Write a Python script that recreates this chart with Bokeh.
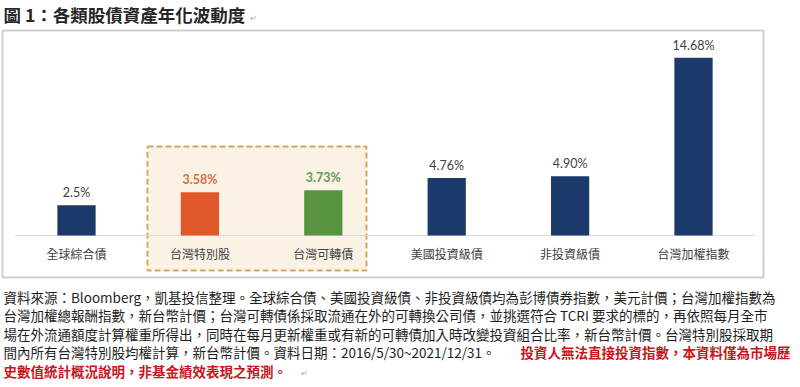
from bokeh.plotting import figure
from bokeh.models import Range1d, ColumnDataSource
from bokeh.core.properties import value
from bokeh.embed import file_html
from bokeh.resources import INLINE

# ---------------- data ----------------
categories = ["全球綜合債", "台灣特別股", "台灣可轉債", "美國投資級債", "非投資級債", "台灣加權指數"]
volatility = [2.50, 3.58, 3.73, 4.76, 4.90, 14.68]
value_labels = ["2.5%", "3.58%", "3.73%", "4.76%", "4.90%", "14.68%"]
bar_colors = ["#1B3A6B", "#E0582A", "#589440", "#1B3A6B", "#1B3A6B", "#1B3A6B"]
label_colors = ["#404040", "#D8703E", "#66985A", "#404040", "#404040", "#404040"]
label_bold = ["normal", "bold", "bold", "normal", "normal", "normal"]
highlight = [1, 2]  # indices inside the dashed box

title_text = "圖 1：各類股債資產年化波動度"
note_lines = [
    "資料來源：Bloomberg，凱基投信整理。全球綜合債、美國投資級債、非投資級債均為彭博債券指數，美元計價；台灣加權指數為",
    "台灣加權總報酬指數，新台幣計價；台灣可轉債係採取流通在外的可轉換公司債，並挑選符合 TCRI 要求的標的，再依照每月全市",
    "場在外流通額度計算權重所得出，同時在每月更新權重或有新的可轉債加入時改變投資組合比率，新台幣計價。台灣特別股採取期",
    "間內所有台灣特別股均權計算，新台幣計價。資料日期：2016/5/30~2021/12/31。",
]
note_red_1 = "投資人無法直接投資指數，本資料僅為市場歷"
note_red_2 = "史數值統計概況說明，非基金績效表現之預測。"

# ---------------- layout ----------------
W, H = 796, 383
CJK = "Noto Sans CJK TC"
FIRST_X, STEP = 76.0, 123.4       # px: first bar centre, spacing
BASE_Y, PX_PER = 235.0, 12.1      # px from top of baseline, px per percent

p = figure(width=W, height=H, output_backend="svg", toolbar_location=None,
           x_axis_type=None, y_axis_type=None,
           x_range=Range1d(0, W), y_range=Range1d(H, 0),
           min_border=0, min_border_left=0, min_border_right=0,
           min_border_top=0, min_border_bottom=0)
p.outline_line_color = None
p.background_fill_color = "white"
p.border_fill_color = "white"
p.grid.visible = False

bx0 = -FIRST_X / STEP
by0 = -(H - BASE_Y) / PX_PER
p.extra_x_ranges = {"bar": Range1d(bx0, bx0 + W / STEP)}
p.extra_y_ranges = {"bar": Range1d(by0, by0 + H / PX_PER)}

# chart frame
p.quad(left=2, right=763, top=30, bottom=277, fill_color=None,
       line_color="#D0D0D0", line_width=2)

idx = list(range(len(categories)))
src = ColumnDataSource(dict(x=idx, top=volatility, lab=value_labels, cat=categories,
                            color=bar_colors, lcolor=label_colors, lbold=label_bold))

# highlight box
p.quad(left=[highlight[0] - 0.425], right=[highlight[-1] + 0.35], bottom=[-2.9], top=[7.36],
       x_range_name="bar", y_range_name="bar",
       fill_color="#FBF2E6", line_color="#D4A85E", line_width=2, line_dash="6 3")

# baseline
p.segment(x0=[-0.5], x1=[len(categories) - 0.5], y0=[0], y1=[0],
          x_range_name="bar", y_range_name="bar", line_color="#D9D9D9", line_width=1)

p.vbar(x="x", top="top", bottom=0, width=0.31, source=src,
       x_range_name="bar", y_range_name="bar", fill_color="color", line_color=None)

p.text(x="x", y="top", text="lab", source=src, x_range_name="bar", y_range_name="bar",
       text_align="center", text_baseline="bottom", y_offset=-5,
       text_font=value("Lato"), text_font_size="12.5px", text_color="lcolor",
       text_font_style="lbold")

p.text(x="x", y=0, text="cat", source=src, x_range_name="bar", y_range_name="bar",
       text_align="center", text_baseline="middle", y_offset=18,
       text_font=value(CJK), text_font_size="12px", text_color="#404040")

# title
p.text(x=[3], y=[14], text=[title_text], text_baseline="middle",
       text_font=value(CJK), text_font_size="17.5px", text_font_style="bold",
       text_color="#262626")
p.text(x=[249], y=[17], text=["↵"], text_baseline="middle",
       text_font=value(CJK), text_font_size="8px", text_color="#A0A0A0")

# notes
ys = [296, 314.5, 333, 351.5, 370]
p.text(x=[3] * len(note_lines), y=ys[:len(note_lines)], text=note_lines,
       text_baseline="middle", text_font=value(CJK), text_font_size="13.5px",
       text_color="#1E1E1E")
p.text(x=[790], y=[ys[3]], text=[note_red_1], text_align="right", text_baseline="middle",
       text_font=value(CJK), text_font_size="13.5px", text_font_style="bold",
       text_color="#C8161D")
p.text(x=[3], y=[ys[4]], text=[note_red_2], text_baseline="middle",
       text_font=value(CJK), text_font_size="13.5px", text_font_style="bold",
       text_color="#C8161D")
p.text(x=[300], y=[ys[4] + 2], text=["↵"], text_baseline="middle",
       text_font=value(CJK), text_font_size="8px", text_color="#A0A0A0")

open("out.html", "w").write(file_html(p, INLINE))
